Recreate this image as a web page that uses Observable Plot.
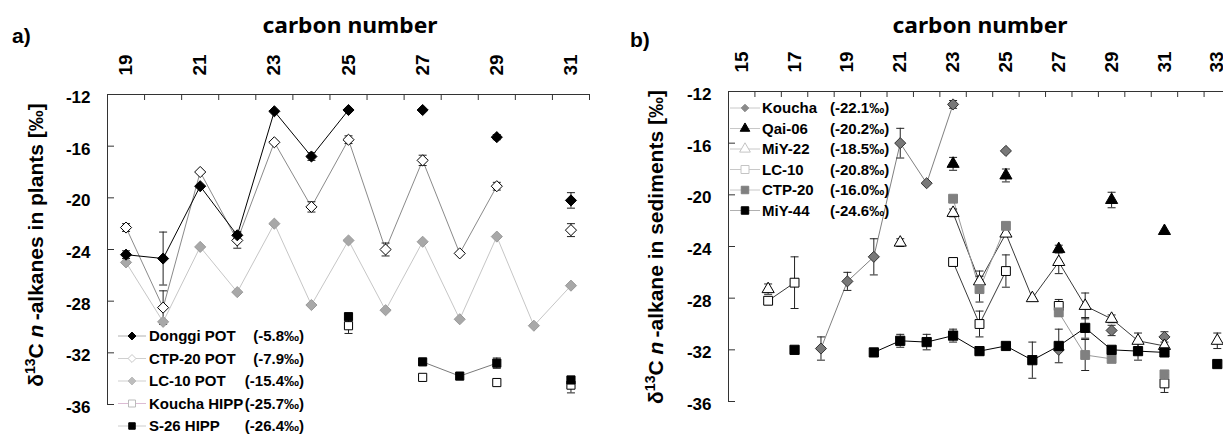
<!DOCTYPE html>
<html><head><meta charset="utf-8">
<script src="https://cdn.jsdelivr.net/npm/d3@7"></script>
<script src="https://cdn.jsdelivr.net/npm/@observablehq/plot@0.6"></script>
<style>
body{margin:0;background:#fff;}
#root{position:relative;width:1223px;height:435px;overflow:hidden;background:#fff;}
#root svg{position:absolute;top:0;}
</style></head><body><div id="root"></div>
<script>
// ---------------- Panel a: plants ----------------
const carbonsA = [19,20,21,22,23,24,25,26,27,28,29,30,31];
const donggiPOT     = [-24.4,-24.7,-19.1,-22.9,-13.3,-16.8,-13.2,null,-13.2,null,-15.3,null,-20.2];
const donggiPOTErr  = [0.3,2.05,0,0.3,0,0.3,0,0,0,0,0.2,0,0.6];
const ctp20POT      = [-22.3,-28.5,-18.0,-23.3,-15.7,-20.7,-15.5,-24.0,-17.1,-24.3,-19.1,null,-22.5];
const ctp20POTErr   = [0.3,1.3,0,0.6,0,0.4,0.3,0.5,0.4,0,0.3,0,0.5];
const lc10POT       = [-25.0,-29.6,-23.8,-27.3,-22.0,-28.3,-23.3,-28.7,-23.4,-29.4,-23.0,-29.9,-26.8];
const lc10POTErr    = [0,0,0,0,0,0,0,0,0,0,0,0,0];
const kouchaHIPP    = [null,null,null,null,null,null,-29.9,null,-33.9,null,-34.3,null,-34.5];
const kouchaHIPPErr = [0,0,0,0,0,0,0.6,0,0,0,0,0,0.6];
const s26HIPP       = [null,null,null,null,null,null,-29.2,null,-32.7,-33.8,-32.8,null,-34.1];
const s26HIPPErr    = [0,0,0,0,0,0,0.2,0,0.2,0,0.4,0,0];
const tickLabelsA   = [19,21,23,25,27,29,31];
const legendNamesA  = ["Donggi POT","CTP-20 POT","LC-10 POT","Koucha HIPP","S-26 HIPP"];
const legendValuesA = ["(-5.8‰)","(-7.9‰)","(-15.4‰)","(-25.7‰)","(-26.4‰)"];

// ---------------- Panel b: sediments ----------------
const carbonsB = [15,16,17,18,19,20,21,22,23,24,25,26,27,28,29,30,31,32,33];
const koucha    = [null,null,null,-31.9,-26.7,-24.8,-16.0,-19.1,-13.0,null,-16.6,null,-32.0,null,-30.5,null,-31.0,null,null];
const kouchaErr = [0,0,0,0.9,0.7,1.4,1.15,0,0.3,0,0,0,0,0,0.4,0,0.4,0,0];
const qai06     = [null,null,null,null,null,null,null,null,-17.6,null,-18.5,null,-24.2,null,-20.4,null,-22.8,null,null];
const qai06Err  = [0,0,0,0,0,0,0,0,0.5,0,0.5,0,0.3,0,0.6,0,0,0,0];
const miy22     = [null,-27.3,null,null,null,null,-23.7,null,-21.4,-26.7,-23.0,-28.0,-25.2,-28.6,-29.6,-31.3,-31.7,null,-31.3];
const miy22Err  = [0,0.4,0,0,0,0,0.3,0,0.3,0.8,0,0,0.9,1.0,0.3,0.6,0,0,0.6];
const lc10      = [null,-28.2,-26.8,null,null,null,null,null,-25.2,-30.0,-25.9,null,-28.6,null,null,null,-34.6,null,null];
const lc10Err   = [0,0.3,2.0,0,0,0,0,0,0,1.0,1.25,0,0.5,0,0,0,0.7,0,0];
const ctp20     = [null,null,null,null,null,null,null,null,-20.3,-27.3,-22.4,null,-29.1,-32.4,-32.7,null,-33.9,null,null];
const ctp20Err  = [0,0,0,0,0,0,0,0,0,1.0,0,0,0.3,1.2,0,0,0,0,0];
const miy44     = [null,null,-32.0,null,null,-32.2,-31.3,-31.4,-30.9,-32.1,-31.7,-32.8,-31.7,-30.3,-32.0,-32.1,-32.2,null,-33.1];
const miy44Err  = [0,0,0,0,0,0.3,0.5,0.6,0.5,0.3,0,1.4,1.3,0.8,0,0.7,0,0,0];
const tickLabelsB   = [15,17,19,21,23,25,27,29,31,33];
const legendNamesB  = ["Koucha","Qai-06","MiY-22","LC-10","CTP-20","MiY-44"];
const legendValuesB = ["(-22.1‰)","(-20.2‰)","(-18.5‰)","(-20.8‰)","(-16.0‰)","(-24.6‰)"];

const yTicks  = [-12,-16,-20,-24,-28,-32,-36];
const yDomain = [-36,-12];

// ---------------- styles ----------------
const FONT = "'Liberation Sans', Arial, sans-serif";
const TITLE_FONT = "'Noto Sans', 'Open Sans', sans-serif";

const seriesA = [
  {vals: lc10POT,    errs: lc10POTErr,    symbol: "diamond2", r: 5,   fill: "#a8a8a8", stroke: "#9a9a9a", line: "#c6c6c6",
   lg: {line: "#cfcfcf", fill: "#bdbdbd", stroke: "#bdbdbd", sym: d3.symbolDiamond2, size: 40}},
  {vals: ctp20POT,   errs: ctp20POTErr,   symbol: "diamond2", r: 5,   fill: "white",   stroke: "black",   line: "#8a8a8a",
   lg: {line: "#cfcfcf", fill: "white", stroke: "#c8c8c8", sym: d3.symbolDiamond2, size: 40}},
  {vals: donggiPOT,  errs: donggiPOTErr,  symbol: "diamond2", r: 5,   fill: "black",   stroke: "black",   line: "black",
   lg: {line: "#b0b0b0", fill: "black", stroke: "black", sym: d3.symbolDiamond2, size: 40}},
  {vals: kouchaHIPP, errs: kouchaHIPPErr, symbol: "square",   r: 4.6, fill: "white",   stroke: "black",   line: null,
   lg: {line: "#dcbcd4", fill: "white", stroke: "#bbbbbb", sym: d3.symbolSquare, size: 49}},
  {vals: s26HIPP,    errs: s26HIPPErr,    symbol: "square",   r: 4.6, fill: "black",   stroke: "black",   line: "#7a7a7a",
   lg: {line: "#cccccc", fill: "black", stroke: "black", sym: d3.symbolSquare, size: 42}},
];
const legendOrderA = [2,1,0,3,4];

const seriesB = [
  {vals: koucha, errs: kouchaErr, symbol: "diamond2", r: 5,   fill: "#787878", stroke: "#333",  line: "#808080",
   lg: {line: "#c8c8c8", fill: "#8a8a8a", stroke: "#8a8a8a", sym: d3.symbolDiamond2, size: 36}},
  {vals: qai06,  errs: qai06Err,  symbol: "triangle", r: 4.5, fill: "black",   stroke: "black", line: null,
   lg: {line: "#c8c8c8", fill: "black", stroke: "black", sym: d3.symbolTriangle, size: 40}},
  {vals: miy22,  errs: miy22Err,  symbol: "triangle", r: 4.5, fill: "white",   stroke: "black", line: "#3a3a3a",
   lg: {line: "#c8c8c8", fill: "white", stroke: "#c4c4c4", sym: d3.symbolTriangle, size: 50}},
  {vals: lc10,   errs: lc10Err,   symbol: "square",   r: 5,   fill: "white",   stroke: "black", line: "#3a3a3a",
   lg: {line: "#c8c8c8", fill: "white", stroke: "#c4c4c4", sym: d3.symbolSquare, size: 64}},
  {vals: ctp20,  errs: ctp20Err,  symbol: "square",   r: 5,   fill: "#808080", stroke: "#808080", line: "#9a9a9a",
   lg: {line: "#c8c8c8", fill: "#808080", stroke: "#808080", sym: d3.symbolSquare, size: 56}},
  {vals: miy44,  errs: miy44Err,  symbol: "square",   r: 5.2, fill: "black",   stroke: "black", line: "black",
   lg: {line: "#b0b0b0", fill: "black", stroke: "black", sym: d3.symbolSquare, size: 56}},
];
const legendOrderB = [0,1,2,3,4,5];

const capSymbol = {draw(ctx, size){ const w = Math.sqrt(size/Math.PI); ctx.moveTo(-w,0); ctx.lineTo(w,0); }};

function toRows(carbons, vals, errs){
  return carbons.map((c,i)=>({c, v: vals[i] == null ? NaN : vals[i], e: errs[i]}));
}

function seriesMarks(series, carbons, capR){
  const lines = [], errs = [], dots = [];
  for (const s of series){
    const rows = toRows(carbons, s.vals, s.errs);
    const valid = rows.filter(d => !isNaN(d.v));
    const withErr = valid.filter(d => d.e > 0);
    if (s.line) lines.push(Plot.line(rows, {x: "c", y: "v", stroke: s.line, strokeWidth: 1}));
    errs.push(Plot.ruleX(withErr, {x: "c", y1: d => d.v - d.e, y2: d => d.v + d.e, stroke: "#222", strokeWidth: 1}));
    errs.push(Plot.dot(withErr, {x: "c", y: d => d.v + d.e, symbol: capSymbol, r: capR, fill: "none", stroke: "#222", strokeWidth: 1}));
    errs.push(Plot.dot(withErr, {x: "c", y: d => d.v - d.e, symbol: capSymbol, r: capR, fill: "none", stroke: "#222", strokeWidth: 1}));
    dots.push(Plot.dot(valid, {x: "c", y: "v", symbol: s.symbol, r: s.r, fill: s.fill, stroke: s.stroke, strokeWidth: 1}));
  }
  return [...lines, ...errs, ...dots];
}

function panel({carbons, series, tickLabels, width, height, mL, mR, mT, mB, capR}){
  const xDomain = [carbons[0] - 0.5, carbons[carbons.length-1] + 0.5];
  const halfTicks = carbons.map(c => c + 0.5);
  const plotW = width - mL - mR, plotH = height - mT - mB;
  return Plot.plot({
    width, height, marginLeft: mL, marginRight: mR, marginTop: mT, marginBottom: mB,
    style: {fontFamily: FONT, fontWeight: "bold", background: "transparent", overflow: "visible", color: "black"},
    x: {domain: xDomain},
    y: {domain: yDomain},
    marks: [
      Plot.ruleY([yDomain[1]], {stroke: "#333"}),
      Plot.ruleX([xDomain[0]], {stroke: "#333"}),
      Plot.ruleX(halfTicks, {x: d => d, insetBottom: plotH - 6, stroke: "#333"}),
      Plot.ruleY(yTicks, {y: d => d, insetRight: plotW - 7, stroke: "#333"}),
      Plot.axisX(tickLabels, {anchor: "top", tickSize: 0, tickPadding: 19, tickRotate: -90, fontSize: 19, fontWeight: "bold", label: null}),
      Plot.axisY(yTicks, {anchor: "left", tickSize: 0, tickPadding: 17, fontSize: 17, fontWeight: "bold", dy: 3, label: null, tickFormat: d => d}),
      ...seriesMarks(series, carbons, capR)
    ]
  });
}

function addLegend(svg, series, order, names, values, o){
  const g = d3.select(svg).append("g").attr("font-family", FONT).attr("font-weight", "bold").attr("font-size", 15)
    .attr("fill", "black").attr("text-anchor", "start");
  order.forEach((si, i) => {
    const s = series[si].lg, y = o.y0 + i * o.dy;
    g.append("line").attr("x1", o.x0).attr("x2", o.x1).attr("y1", y).attr("y2", y).attr("stroke", s.line).attr("stroke-width", 1);
    g.append("path").attr("d", d3.symbol(s.sym, s.size)()).attr("transform", `translate(${o.xm},${y})`)
      .attr("fill", s.fill).attr("stroke", s.stroke);
    g.append("text").attr("x", o.xt).attr("y", y).attr("dy", "0.36em").attr("text-anchor", "start").text(names[i]);
    g.append("text").attr("x", o.xv).attr("y", y).attr("dy", "0.36em").attr("text-anchor", o.vAnchor).text(values[i]);
  });
}

function addTitles(svg, o){
  const s = d3.select(svg);
  s.append("text").attr("x", o.px).attr("y", o.py).attr("text-anchor", "start").attr("font-family", FONT).attr("font-weight", "bold")
    .attr("font-size", 21).text(o.panel);
  s.append("text").attr("x", o.cx).attr("y", 33).attr("text-anchor", "middle").attr("font-family", TITLE_FONT)
    .attr("font-weight", 700).attr("font-size", 22).attr("textLength", 175).attr("lengthAdjust", "spacingAndGlyphs")
    .text("carbon number");
  const t = s.append("text").attr("transform", `translate(${o.lx},${o.ly}) rotate(-90)`).attr("text-anchor", "middle")
    .attr("font-family", FONT).attr("font-weight", "bold").attr("font-size", 21);
  t.append("tspan").text("δ");
  t.append("tspan").attr("dy", -8).attr("font-size", 14).text("13");
  t.append("tspan").attr("dy", 8).text("C ");
  t.append("tspan").attr("font-style", "italic").text("n");
  t.append("tspan").text("\u2009" + o.rest);
}

const root = document.getElementById("root");

const svgA = panel({carbons: carbonsA, series: seriesA, tickLabels: tickLabelsA,
  width: 600, height: 435, mL: 107, mR: 11, mT: 94, mB: 31, capR: 4});
svgA.style.left = "0px";
root.appendChild(svgA);
addTitles(svgA, {panel: "a)", px: 12, py: 43, cx: 350, lx: 43, ly: 245, rest: "-alkanes in plants [‰]"});
addLegend(svgA, seriesA, legendOrderA, legendNamesA, legendValuesA,
  {x0: 118, x1: 146, xm: 132, xt: 149, xv: 304, vAnchor: "end", y0: 336, dy: 22.5});

const svgB = panel({carbons: carbonsB, series: seriesB, tickLabels: tickLabelsB,
  width: 640, height: 435, mL: 128, mR: 10, mT: 91, mB: 34, capR: 4});
svgB.style.left = "600px";
root.appendChild(svgB);
addTitles(svgB, {panel: "b)", px: 30, py: 47, cx: 380, lx: 63, ly: 247, rest: "-alkane in sediments [‰]"});
addLegend(svgB, seriesB, legendOrderB, legendNamesB, legendValuesB,
  {x0: 130, x1: 160, xm: 145, xt: 162, xv: 230, vAnchor: "start", y0: 108, dy: 20.5});
</script></body></html>
